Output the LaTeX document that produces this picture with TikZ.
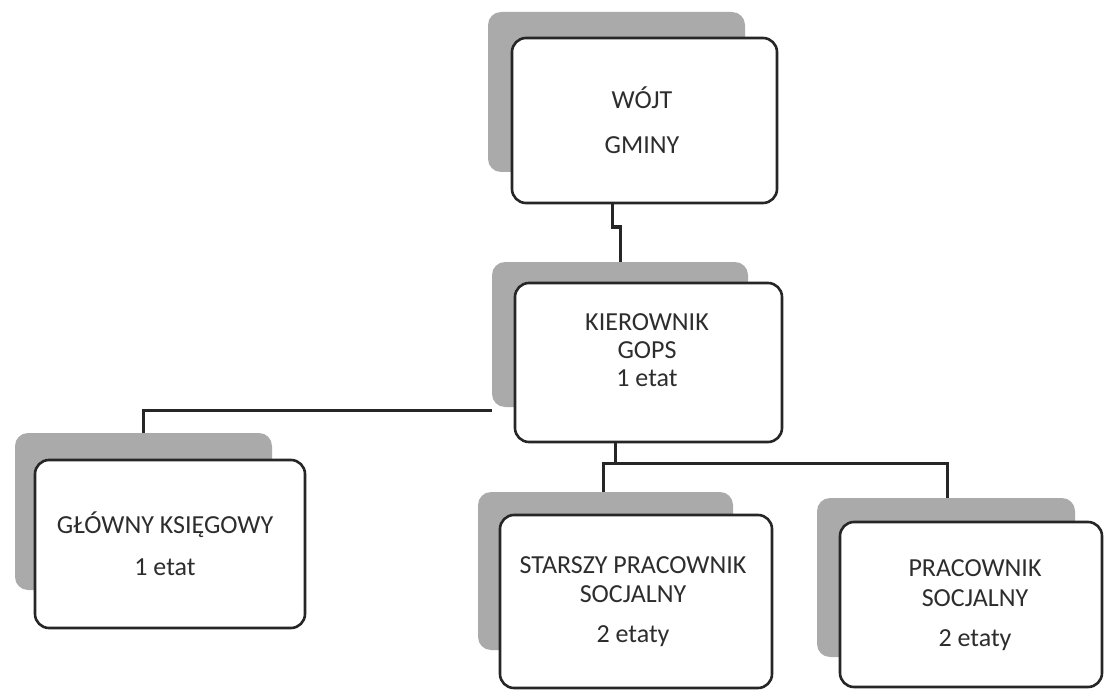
\documentclass[tikz,border=0pt]{standalone}
\usepackage{fontspec}
\setmainfont{Carlito}
\definecolor{shade}{RGB}{170,170,170}
\definecolor{ink}{RGB}{45,45,45}
\begin{document}
\begin{tikzpicture}[x=1pt,y=-1pt,
  shadowbox/.style={fill=shade, draw=none, rounded corners=13pt, inner sep=0pt},
  frontbox/.style={fill=white, draw=black!85, line width=2.6pt, rounded corners=14pt, inner sep=0pt},
  lbl/.style={text=ink, align=center, inner sep=0pt, font=\fontsize{26}{31}\selectfont},
  conn/.style={draw=black!85, line width=3pt}]
\useasboundingbox (0,0) rectangle (1104,690);

% WOJT
\node[shadowbox, minimum width=257pt, minimum height=160pt] (wojtS) at (616.5,92) {};
\node[frontbox, minimum width=265pt, minimum height=165pt] (wojt) at (644.5,120.5) {};
\node[lbl] (wojtT) at (642,120) {WÓJT\\[14pt]GMINY};

% KIEROWNIK
\node[shadowbox, minimum width=256pt, minimum height=145pt] (kierS) at (620,334.5) {};
\node[frontbox, minimum width=267pt, minimum height=159pt] (kier) at (648.5,362.5) {};
\node[lbl] (kierT) at (647,350) {KIEROWNIK\\[-3pt]GOPS\\[-3pt]1 etat};

% GLOWNY
\node[shadowbox, minimum width=257pt, minimum height=157pt] (glS) at (143.5,511.5) {};
\node[frontbox, minimum width=270pt, minimum height=168pt] (gl) at (170,544) {};
\node[lbl] (glT) at (165,544) {GŁÓWNY KSIĘGOWY\\[11pt]1 etat};

% STARSZY
\node[shadowbox, minimum width=255pt, minimum height=158pt] (stS) at (605.5,571) {};
\node[frontbox, minimum width=272pt, minimum height=173pt] (st) at (636,601.5) {};
\node[lbl] (stT) at (633,602) {STARSZY PRACOWNIK\\[-2pt]SOCJALNY\\[9pt]2 etaty};

% PRACOWNIK
\node[shadowbox, minimum width=258pt, minimum height=159pt] (prS) at (946,577.5) {};
\node[frontbox, minimum width=262pt, minimum height=165pt] (pr) at (971,604.5) {};
\node[lbl] (prT) at (975,605) {PRACOWNIK\\[-1pt]SOCJALNY\\[9pt]2 etaty};

% connectors
\coordinate (j1) at (612,227);
\draw[conn] (wojt.south -| j1) -- (j1) -| (kierS.north -| 620,0);
\coordinate (lb) at (143,410);
\draw[conn] (kierS.west |- lb) -- (lb) -- (glS.north -| lb);
\coordinate (bus) at (615,463);
\draw[conn] (kier.south -| bus) -- (bus);
\coordinate (bl) at (603,463);
\coordinate (br) at (947,463);
\draw[conn] (stS.north -| bl) -- (bl) -- (br) -- (prS.north -| br);
\end{tikzpicture}
\end{document}
